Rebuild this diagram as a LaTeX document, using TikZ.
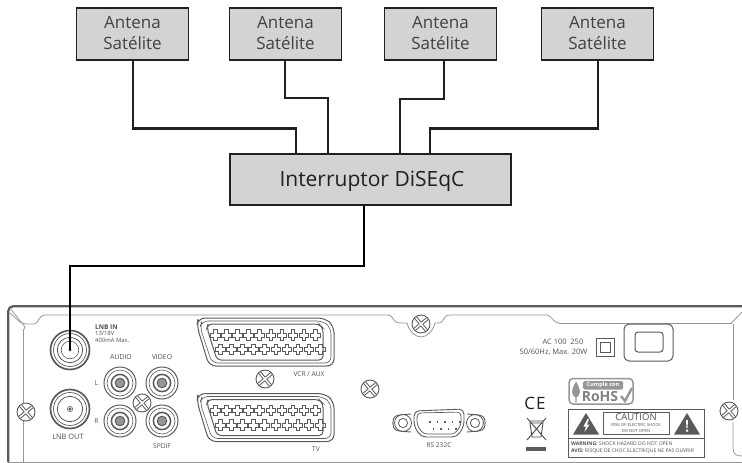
\documentclass[tikz,border=0pt]{standalone}
\usepackage{fontspec}
\setmainfont{Open Sans}
\definecolor{boxgray}{RGB}{209,211,212}
\definecolor{devline}{RGB}{90,90,90}
\definecolor{panel}{RGB}{150,150,150}
\definecolor{ink}{RGB}{35,31,32}
\definecolor{devtext}{RGB}{80,80,80}
\newcommand{\fs}[1]{\fontsize{#1}{1.2\dimexpr #1pt\relax}\selectfont}
\newcommand{\fsl}[2]{\fontsize{#1}{#2}\selectfont}
\tikzset{
  x=1pt,y=-1pt,
  antbox/.style={draw=ink,fill=boxgray,line width=1.2pt,minimum width=112.5pt,minimum height=52pt,align=center,inner sep=0pt,text=ink!85!white,font=\fsl{17}{21}},
  swbox/.style={draw=ink,fill=boxgray,line width=1.2pt,minimum width=281pt,minimum height=51pt,inner sep=0pt,text=ink,font=\fs{21}},
  wire/.style={draw=ink,line width=2.2pt,line join=miter},
  cable/.style={draw=black,line width=2.6pt,line join=miter},
  hull/.style={draw=devline,line width=2.2pt},
  pline/.style={draw=panel,line width=.8pt},
  dline/.style={draw=devline,line width=.8pt},
  lbl/.style={inner sep=0pt,text=devtext,font=\fs{6.6}},
  pics/screw/.style={code={
    \draw[dline,fill=white,line width=.9pt] (0,0) circle (9);
    \begin{scope}[rotate=#1]
      \draw[dline] (-8.6,-1.3)--(-1.3,-1.3)--(-1.3,-8.6) (1.3,-8.6)--(1.3,-1.3)--(8.6,-1.3) (8.6,1.3)--(1.3,1.3)--(1.3,8.6) (-1.3,8.6)--(-1.3,1.3)--(-8.6,1.3);
    \end{scope}}},
  pics/rca/.style={code={
    \draw[dline,line width=1pt] (0,0) circle (16);
    \draw[dline,line width=.6pt] (0,0) circle (13);
    \draw[dline,line width=1.5pt] (0,0) circle (8.6);
    \draw[dline,fill=panel,line width=1pt] (0,0) circle (4.8);}},
  pics/coax/.style={code={
    \draw[dline,line width=1.7pt] (0,0) circle (19.5);
    \draw[dline,line width=.7pt] (0,0) circle (16.5);
    \draw[dline,line width=.8pt] (0,0) circle (12.7);
    \draw[dline,line width=.6pt] (0,0) circle (#1);
    \fill[devline] (0,0) circle (1.6);}},
  pics/pin/.style={code={
    \draw[dline,line width=.7pt] (-1.9,-5.2)--(1.9,-5.2)--(1.9,-1.9)--(4.9,-1.9)--(4.9,1.9)--(1.9,1.9)--(1.9,5.2)--(-1.9,5.2)--(-1.9,1.9)--(-4.9,1.9)--(-4.9,-1.9)--(-1.9,-1.9)--cycle;}},
  pics/scart/.style={code={
    % origin: top left of the outer shell, 137 x 48
    \draw[dline,line width=1pt,rounded corners=7] (1,0)--(128,0)--(137,8)--(137,48)--(12,48)--(0,8)--cycle;
    \draw[dline,line width=.6pt,rounded corners=6] (5,3)--(126,3)--(134,10)--(134,45)--(15,45)--(3,9)--cycle;
    \draw[dline,line width=1pt,rounded corners=4] (11,6)--(122,6)--(126,10)--(126,42)--(20,42)--(10,10)--cycle;
    \foreach \i in {0,...,9} {
      \path (18.5+\i*11.05,17) pic {pin};
      \path (23.5+\i*11.05,31.5) pic {pin};
    }}},
}
\begin{document}
\begin{tikzpicture}
\useasboundingbox (0,0) rectangle (742,463);
% ---- diagram nodes
\node[antbox] (a1) at (132.5,34) {Antena\\\raisebox{0pt}[\height][2pt]{Satélite}};
\node[antbox] (a2) at (285.5,34) {Antena\\\raisebox{0pt}[\height][2pt]{Satélite}};
\node[antbox] (a3) at (440.5,34) {Antena\\\raisebox{0pt}[\height][2pt]{Satélite}};
\node[antbox] (a4) at (597.5,34) {Antena\\\raisebox{0pt}[\height][2pt]{Satélite}};
\node[swbox] (sw) at (370.5,179.5) {\hspace*{3pt}\raisebox{-2pt}[\height][\depth]{Interruptor DiSEqC}};
% ---- device
\draw[hull,rounded corners=5] (742,306.2)--(8.2,306.2)--(8.2,462);
\draw[draw=panel,line width=.9pt] (8.2,462)--(742,462);
\draw[pline] (10,308)--(25,327)--(23,331);
\draw[pline] (23,331)--(23,404) (23,421)--(23,462);
\draw[pline] (10,313) -- (20,322) .. controls (23,324) and (26,324) .. (30,324) -- (33,324) .. controls (40,324) and (37,315) .. (46,315)
 -- (388,315) .. controls (394,315) and (392,323) .. (400,323) -- (407,323) .. controls (409,331) and (415,337) .. (421,337) .. controls (427,337) and (433,331) .. (435,323) -- (439,323) .. controls (445,323) and (442,315) .. (450,315)
 -- (547,315) .. controls (551,315) and (553,323) .. (560,323.5) -- (731,323.5) -- (742,312);
\draw[pline] (733,323.5)--(733,400);
\draw[pline] (733,422)--(733,448) .. controls (733,454) and (736,456) .. (742,456);
% connectors on the back panel
\path (70,350) pic {coax=8.8};
\path (70,409) pic {coax=0.01};
\draw[dline,line width=.6pt] (70,409) circle (2.6);
\path (120,383) pic {rca};
\path (162,383) pic {rca};
\path (120,421) pic {rca};
\path (162,421) pic {rca};
\path (142,403) pic {screw=40};
\path (26,412) pic {screw=40};
\path (265,379) pic {screw=40};
\path (370,389) pic {screw=40};
\path (421,324) pic {screw=40};
\path (729,411) pic {screw=40};
\path (197,318) pic {scart};
\path (197,393.5) pic {scart};
% RS232
\draw[dline,line width=.9pt,rounded corners=3] (411,414) -- (398,415) .. controls (392,418) and (392,428) .. (398,431) -- (411,432)
 (467,414) -- (480,415) .. controls (486,418) and (486,428) .. (480,431) -- (467,432);
\draw[dline] (403,423) circle (8.5) (403,423) circle (4.6);
\draw[dline] (475,423) circle (8.5) (475,423) circle (4.6);
\draw[dline,fill=white,line width=.9pt,rounded corners=5] (414,411)--(464,409)--(464,426)--(457,437)--(421,437)--(414,426)--cycle;
\draw[dline,line width=.7pt,rounded corners=4] (417,413)--(461,412)--(461,425)--(455,434)--(423,434)--(417,425)--cycle;
\foreach \i in {0,...,4} \fill[devline] (429+\i*7.6,420.5) rectangle ++(1.6,2.2);
\foreach \i in {0,...,3} \fill[devline] (432.5+\i*7.6,427.5) rectangle ++(1.6,2.2);
% power
\draw[dline,line width=1pt] (596,338) rectangle (614,356);
\draw[dline,line width=1pt] (600,342) rectangle (610,352);
\draw[dline,line width=1pt,rounded corners=5] (624,324) rectangle (673,361);
\draw[dline,line width=1pt,rounded corners=3] (635,332) rectangle (663,352);
% RoHS
\draw[panel,line width=1.5pt,rounded corners=4] (569,378.5) rectangle (633,404);
\fill[panel,rounded corners=1.5] (583,381) rectangle (623,389.5);
\node[inner sep=0pt,text=white,font=\fs{5.6}\bfseries] (cumple) at (603,385.2) {Cumple con};
\node[inner sep=0pt,text=panel!85!black,font=\fs{14}\bfseries] (rohs) at (600,396.3) {RoHS};
\fill[panel] (576,381.5) .. controls (570,391) and (572,396) .. (575.3,397) -- (575.3,402.5) -- (576.7,402.5) -- (576.7,397) .. controls (580,396) and (582,391) .. (576,381.5);
\draw[panel,line width=2.4pt] (621,396)--(625,401)--(632,388);
% CE
\node[inner sep=0pt,text=ink,font=\fs{17}] (ce) at (535,403.5) {C\kern1pt E};
% WEEE
\draw[ink!80,line width=.9pt] (527,418)--(546,440) (546,418)--(527,440);
\draw[ink!80,line width=.9pt] (530,423)--(543,423)--(541,437)--(532,437)--cycle (529,421)--(544,421);
\fill[devline] (526,447) rectangle (546,451);
% caution
\draw[dline,line width=1pt] (568,409) rectangle (704,457);
\draw[dline,line width=.9pt] (568,438)--(704,438);
\draw[dline,line width=.8pt] (603,412) rectangle (669,434);
\fill[devline] (586,413)--(599,434.5)--(573,434.5)--cycle;
\fill[devline] (687,413)--(700,434.5)--(674,434.5)--cycle;
\fill[white] (587.5,419)--(583.5,426.5)--(586,426.5)--(584.5,432)--(589.5,424.5)--(587,424.5)--(589,419)--cycle;
\fill[white] (686,420)--(688,420)--(687.5,428)--(686.5,428)--cycle (686,429.5) rectangle (688,431.5);
\node[inner sep=0pt,text=devtext,font=\fs{9.5}] (caution) at (636,417.5) {CAUTION};
\node[inner sep=0pt,text=devtext,font=\fs{4.2},align=center] (risk) at (636,428) {RISK OF ELECTRIC SHOCK\\DO NOT OPEN};
\node[lbl,anchor=west,font=\fs{5.05}] (warn) at (571,443.5) {\textbf{WARNING:} SHOCK HAZARD DO NOT OPEN};
\node[lbl,anchor=west,font=\fs{5.05}] (avis) at (571,451) {\textbf{AVIS:} RISQUE DE CHOC ELECTRIQUE NE PAS OUVRIR};
% device labels
\node[lbl,anchor=west,font=\fs{6.5}\bfseries] (lbnin) at (95,327.5) {LNB IN};
\node[lbl,anchor=west,align=left,font=\fs{5.9}] (lbnv) at (95,337) {13/18V\\400mA Max.};
\node[lbl,font=\fs{6.9}] (audio) at (121,357) {AUDIO};
\node[lbl,font=\fs{6.9}] (video) at (162,357) {VIDEO};
\node[lbl] (l) at (96.5,383) {L};
\node[lbl] (r) at (96.5,421) {R};
\node[lbl,font=\fs{7.4}] (lbnout) at (68,437) {LNB OUT};
\node[lbl] (spdif) at (162,446) {SPDIF};
\node[lbl] (vcr) at (309,374.5) {VCR / AUX};
\node[lbl] (tv) at (316,449.5) {TV};
\node[lbl] (rs) at (439,445.5) {RS 232C};
\node[lbl,anchor=east,align=right,font=\fsl{7.5}{10}] (ac) at (587.5,346) {AC 100\enspace 250\kern4pt\strut\\50/60Hz, Max. 20W};
% ---- connectors
\draw[wire] (132.7,0 |- a1.south) -- (132.7,128.5) -- (295.7,128.5) -- (295.7,0 |- sw.north);
\draw[wire] (285,0 |- a2.south) -- (285,98) -- (327.7,98) -- (327.7,0 |- sw.north);
\draw[wire] (444,0 |- a3.south) -- (444,99) -- (399.7,99) -- (399.7,0 |- sw.north);
\draw[wire] (598,0 |- a4.south) -- (598,128.5) -- (430.3,128.5) -- (430.3,0 |- sw.north);
\coordinate (lnbin) at (70,350);
\draw[cable] (364,0 |- sw.south) -- (364,266) -- (70,266) -- (lnbin);
\end{tikzpicture}
\end{document}
